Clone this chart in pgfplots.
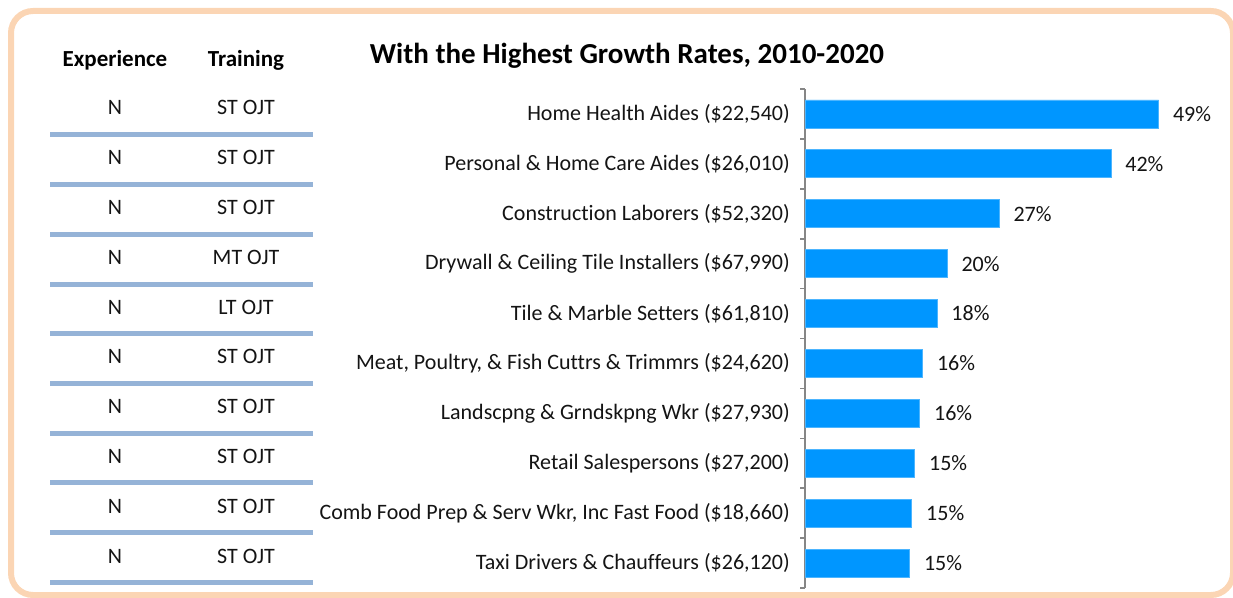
\documentclass[border=0pt]{standalone}
\usepackage{pgfplots}
\pgfplotsset{compat=1.18}
\usepackage{pgfplotstable}
\usepackage{fontspec}
\setmainfont[Ligatures=NoCommon]{Carlito}
\definecolor{barblue}{RGB}{0,150,255}
\definecolor{sepblue}{RGB}{149,179,215}
\definecolor{peach}{RGB}{251,213,180}
\definecolor{axisgray}{RGB}{134,134,134}
\definecolor{txt}{RGB}{20,20,20}

\pgfplotstableread{
idx value shown
0 49.0 49
1 42.4 42
2 26.9 27
3 19.7 20
4 18.3 18
5 16.3 16
6 15.9 16
7 15.2 15
8 14.8 15
9 14.5 15
}\growth

\begin{document}
\begin{tikzpicture}[x=1pt,y=1pt]
\path[use as bounding box] (0,0) rectangle (1233,597);
% border
\draw[peach, line width=6pt, rounded corners=22pt] (11,586) rectangle (1233,2);
% title
\node[anchor=base, font=\fontsize{29}{33}\selectfont\bfseries, text=black, inner sep=0pt] at (627,533) {With the Highest Growth Rates, 2010-2020};
% table header
\node[anchor=base, font=\fontsize{23}{27}\selectfont\bfseries, text=black, inner sep=0pt] at (115,530) {Experience};
\node[anchor=base, font=\fontsize{23}{27}\selectfont\bfseries, text=black, inner sep=0pt] at (246,530) {Training};
% table rows
\foreach \t [count=\i from 0] in {ST OJT,ST OJT,ST OJT,MT OJT,LT OJT,ST OJT,ST OJT,ST OJT,ST OJT,ST OJT}{
  \pgfmathsetmacro{\yb}{597-115-\i*49.8}
  \node[anchor=base, font=\fontsize{22}{26}\selectfont, text=txt, inner sep=0pt] at (115,\yb) {N};
  \node[anchor=base, font=\fontsize{22}{26}\selectfont, text=txt, inner sep=0pt] at (246,\yb) {\t};
  \pgfmathsetmacro{\ys}{597-135-\i*49.7}
  \draw[sepblue, line width=5pt] (50,\ys) -- (313,\ys);
}
\begin{axis}[
  at={(805pt,9pt)}, anchor=south west,
  scale only axis, width=420pt, height=499pt,
  xbar, bar width=28pt,
  xmin=0, xmax=58.2,
  ymin=-0.5, ymax=9.5, y dir=reverse,
  axis y line*=left, axis x line=none,
  axis line style={axisgray, line width=1.6pt},
  ytick={0,...,9},
  yticklabels={{Home Health Aides (\$22,540)},{Personal \& Home Care Aides (\$26,010)},{Construction Laborers (\$52,320)},{Drywall \& Ceiling Tile Installers (\$67,990)},{Tile \& Marble Setters (\$61,810)},{Meat, Poultry, \& Fish Cuttrs \& Trimmrs (\$24,620)},{Landscpng \& Grndskpng Wkr (\$27,930)},{Retail Salespersons (\$27,200)},{Comb Food Prep \& Serv Wkr, Inc Fast Food (\$18,660)},{Taxi Drivers \& Chauffeurs (\$26,120)}},
  major tick length=0pt,
  extra y ticks={-0.5,0.5,1.5,2.5,3.5,4.5,5.5,6.5,7.5,8.5,9.5},
  extra y tick labels={},
  extra y tick style={major tick length=5pt, tick align=outside, tick style={axisgray, line width=1.6pt}},
  ytick pos=left,
  yticklabel style={font=\fontsize{22}{26}\selectfont, text=txt, inner sep=0pt, xshift=-15pt},
  point meta=explicit,
  /pgf/number format/assume math mode=true,
  nodes near coords={\pgfmathprintnumber{\pgfplotspointmeta}\%},
  nodes near coords style={font=\fontsize{22}{26}\selectfont, text=txt, anchor=west, inner sep=0pt, xshift=14pt},
  clip=false,
]
\addplot[fill=barblue, draw=barblue!70!white, line width=0.8pt] table[x=value, y=idx, meta=shown] {\growth};
\end{axis}
\end{tikzpicture}
\end{document}
